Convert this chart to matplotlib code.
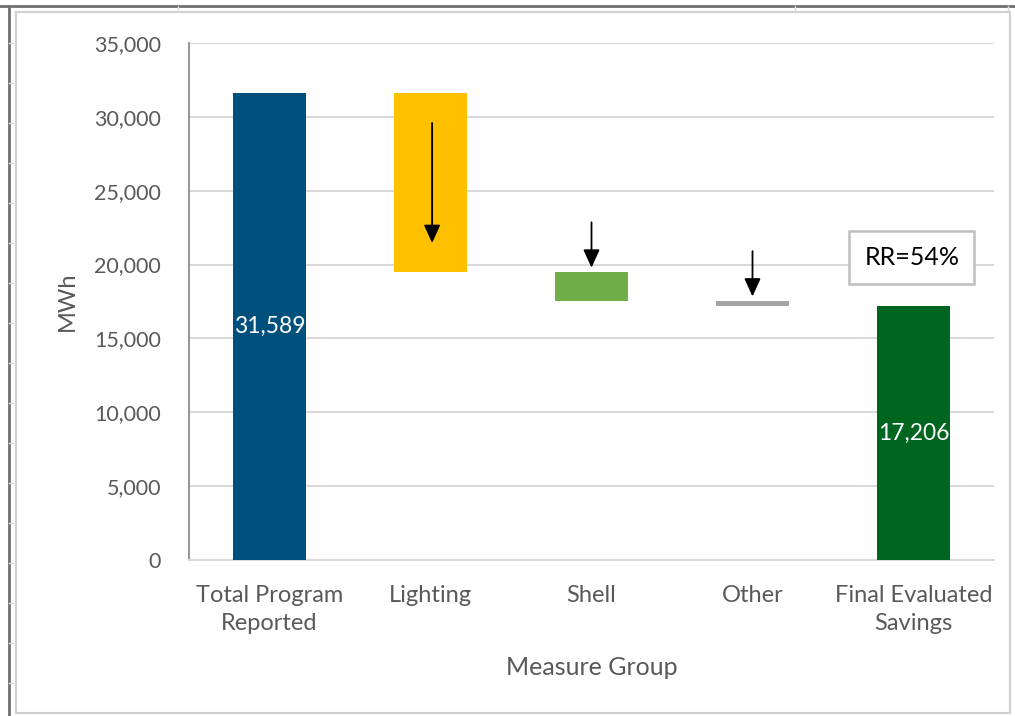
import matplotlib.pyplot as plt
from matplotlib.lines import Line2D
import numpy as np

# waterfall data (MWh)
categories = ['Total Program\nReported', 'Lighting', 'Shell', 'Other', 'Final Evaluated\nSavings']
reported = 31589
adjustments = [-12080, -1950, -353]
evaluated = 17206
bar_colors = ['#00507d', '#ffc000', '#70ad47', '#a5a5a5', '#00661f']
yticks = np.arange(0, 35001, 5000)

plt.rcParams['font.family'] = ['Lato', 'DejaVu Sans']

# running totals for the floating bars
bottoms = [0]
heights = [reported]
level = reported
for d in adjustments:
    bottoms.append(level + d)
    heights.append(-d)
    level += d
bottoms.append(0)
heights.append(evaluated)

fig = plt.figure(figsize=(10.15, 7.16), dpi=100)
ax = fig.add_axes([189 / 1015, 1 - 560 / 716, (994 - 189) / 1015, (560 - 43) / 716])

x = np.arange(len(categories))
ax.bar(x, heights, bottom=bottoms, width=0.45, color=bar_colors, zorder=3)

# value labels inside the first and last bars
for i in (0, len(categories) - 1):
    ax.text(x[i], bottoms[i] + heights[i] / 2, f'{heights[i]:,}', ha='center', va='center',
            color='white', fontsize=16.5, zorder=4)

# downward arrows on the reductions
arrow_kw = dict(arrowstyle='-|>,head_width=0.5,head_length=1.1', color='black', lw=1.3,
                shrinkA=0, shrinkB=0)
top_l = bottoms[1] + heights[1]
ax.annotate('', xy=(x[1] + 0.01, bottoms[1] + 1950), xytext=(x[1] + 0.01, top_l - 2000),
            arrowprops=arrow_kw, zorder=5)
for i in (2, 3):
    top = bottoms[i] + heights[i]
    ax.annotate('', xy=(x[i], top + 280), xytext=(x[i], top + 3350),
                arrowprops=arrow_kw, zorder=5)

# realization rate box
ax.text(x[4] - 0.01, 20450, 'RR=54%', ha='center', va='center', fontsize=18, color='black',
        zorder=6, bbox=dict(boxstyle='square,pad=0.6', fc='white', ec='#bfbfbf', lw=1.8))

ax.set_xlim(-0.5, len(categories) - 0.5)
ax.set_ylim(0, 35000)
ax.set_yticks(yticks)
ax.set_yticklabels([f'{v:,}' for v in yticks])
ax.set_xticks(x)
ax.set_xticklabels(categories, linespacing=1.4)
ax.yaxis.grid(True, color='#d9d9d9', lw=1.5, zorder=0)
ax.set_axisbelow(True)
for s in ('top', 'right'):
    ax.spines[s].set_visible(False)
ax.spines['left'].set_color('#8c8c8c')
ax.spines['left'].set_linewidth(1.3)
ax.spines['bottom'].set_color('#d9d9d9')
ax.spines['bottom'].set_linewidth(1.5)
ax.tick_params(axis='y', length=0, pad=20, labelsize=15.5, labelcolor='#595959')
ax.tick_params(axis='x', length=0, pad=18, labelsize=17, labelcolor='#595959')
ax.set_ylabel('MWh', fontsize=17, color='#595959', labelpad=12)
ax.set_xlabel('Measure Group', fontsize=18, color='#595959', labelpad=16)

# chart frame and sheet cell edges behind it
W, H = 1015, 716
def fline(x0, y0, x1, y1, color, lw):
    fig.add_artist(Line2D([x0 / W, x1 / W], [1 - y0 / H, 1 - y1 / H], color=color, lw=lw,
                          transform=fig.transFigure))

fline(0, 6, W, 6, '#707070', 2)
fline(9, 6, 9, H, '#707070', 2)
fline(16, 12, 1010, 12, '#d0d0d0', 1.5)
fline(16, 12, 16, 713, '#d0d0d0', 1.5)
fline(16, 713, 1010, 713, '#d0d0d0', 1.5)
fline(1010, 12, 1010, 713, '#d0d0d0', 1.5)
for cx in (178, 795, 1008):
    fline(cx, 6, cx, 12, '#d8d8d8', 1)
for cy in range(43, 716, 40):
    fline(9, cy, 16, cy, '#d8d8d8', 1)

fig.savefig('out.png', dpi=100, facecolor='white')
